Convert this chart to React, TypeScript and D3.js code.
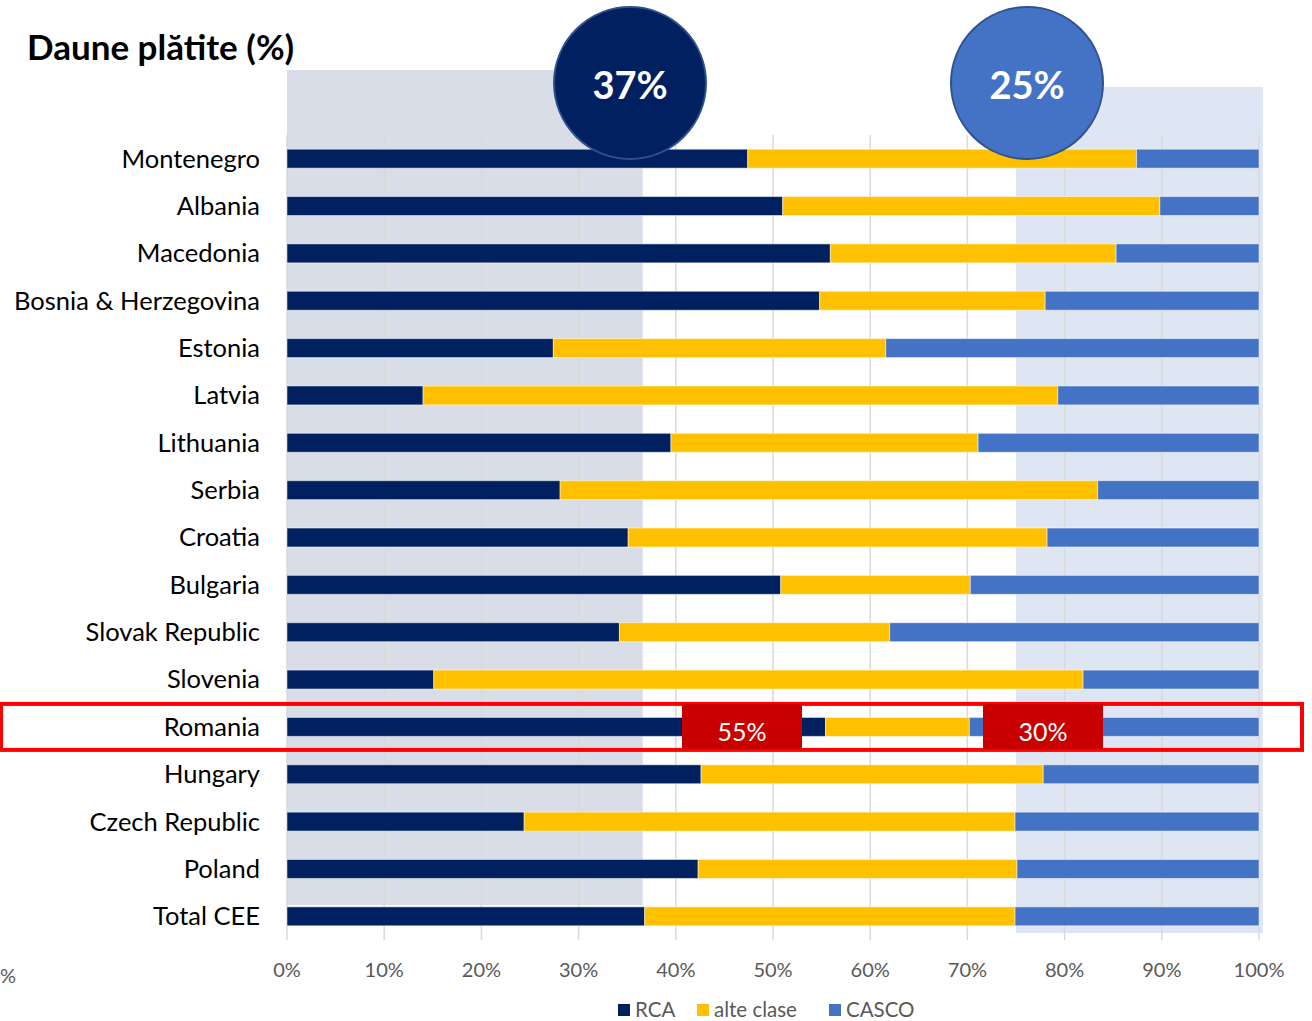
import * as d3 from "d3"

const countries = [
	"Montenegro",
	"Albania",
	"Macedonia",
	"Bosnia & Herzegovina",
	"Estonia",
	"Latvia",
	"Lithuania",
	"Serbia",
	"Croatia",
	"Bulgaria",
	"Slovak Republic",
	"Slovenia",
	"Romania",
	"Hungary",
	"Czech Republic",
	"Poland",
	"Total CEE",
]
const rca = [47.4, 51.0, 55.9, 54.8, 27.4, 14.0, 39.5, 28.1, 35.1, 50.8, 34.2, 15.1, 55.4, 42.6, 24.4, 42.3, 36.8]
const alteClase = [40.0, 38.8, 29.4, 23.2, 34.2, 65.3, 31.6, 55.3, 43.1, 19.5, 27.8, 66.8, 14.8, 35.2, 50.5, 32.8, 38.1]
const casco = [12.6, 10.2, 14.7, 22.0, 38.4, 20.7, 28.9, 16.6, 21.8, 29.7, 38.0, 18.1, 29.8, 22.2, 25.1, 24.9, 25.1]
const seriesNames = ["RCA", "alte clase", "CASCO"]
const seriesColors = ["#002060", "#FFC000", "#4472C4"]
const ticks = [0, 10, 20, 30, 40, 50, 60, 70, 80, 90, 100]
// CEE averages highlighted in the bubbles, Romania values in the red boxes
const bubbleValues = [37, 25]
const romaniaValues = [55, 30]

const FONT = "Lato, 'Open Sans', sans-serif"

export default function App() {
	const width = 1312
	const height = 1021
	const x = d3.scaleLinear().domain([0, 100]).range([287, 1259])
	const y = d3
		.scaleBand()
		.domain(countries)
		.range([135, 940])
		.paddingInner(0.6)
		.paddingOuter(0.3)

	const rows = countries.map((c, i) => ({ country: c, RCA: rca[i], "alte clase": alteClase[i], CASCO: casco[i] }))
	const stacked = d3.stack().keys(seriesNames)(rows as any)

	const roY = y("Romania")! + y.bandwidth() / 2

	return (
		<svg width={width} height={height} style={{ position: "absolute", left: 0, top: 0 }} fontFamily={FONT}>
			{/* shaded zones */}
			<rect x={x(0)} y={70} width={x(36.6) - x(0)} height={905 - 70} fill="#D8DDE7" />
			<rect x={x(75)} y={87} width={x(100.4) - x(75)} height={933 - 87} fill="#DFE6F3" />

			{/* gridlines */}
			{ticks.map((t) => (
				<line key={t} x1={x(t)} x2={x(t)} y1={135} y2={940} stroke="#D9D9D9" strokeWidth={1.5} />
			))}

			{/* bars */}
			{stacked.map((s, si) => (
				<g key={s.key} fill={seriesColors[si]}>
					{s.map((d, i) => (
						<rect
							key={countries[i]}
							x={x(d[0])}
							y={y(countries[i])}
							width={x(d[1]) - x(d[0])}
							height={y.bandwidth()}
							stroke="#ffffff"
							strokeOpacity={0.5}
							strokeWidth={1}
						/>
					))}
				</g>
			))}

			{/* category labels */}
			{countries.map((c) => (
				<text key={c} x={260} y={y(c)! + y.bandwidth() / 2} dy="0.35em" textAnchor="end" fontSize={25.5} fill="#000">
					{c}
				</text>
			))}

			{/* x tick labels */}
			{ticks.map((t) => (
				<text key={t} x={x(t)} y={970} dy="0.35em" textAnchor="middle" fontSize={20} fill="#595959">
					{t}%
				</text>
			))}
			<text x={0} y={976} dy="0.35em" fontSize={20} fill="#595959">%</text>

			{/* legend */}
			{seriesNames.map((n, i) => {
				const lx = [618, 697, 829][i]
				return (
					<g key={n}>
						<rect x={lx} y={1004} width={12} height={12} fill={seriesColors[i]} />
						<text x={lx + 17} y={1010} dy="0.35em" fontSize={20.5} fill="#595959">{n}</text>
					</g>
				)
			})}

			{/* title */}
			<text x={27} y={60} fontSize={35} fontWeight="bold" fill="#000">Daune plătite (%)</text>

			{/* bubbles */}
			{bubbleValues.map((v, i) => {
				const cx = [630, 1027][i]
				return (
					<g key={i}>
						<ellipse cx={cx} cy={83} rx={76} ry={76} fill={[seriesColors[0], seriesColors[2]][i]} stroke="#2F528F" strokeWidth={2} />
						<text x={cx} y={86} dy="0.35em" textAnchor="middle" fontSize={38} fontWeight="bold" fill="#fff">
							{v}%
						</text>
					</g>
				)
			})}

			{/* Romania highlight */}
			<rect x={1} y={roY - 23} width={1301} height={46} fill="none" stroke="#FF0000" strokeWidth={4} />
			{romaniaValues.map((v, i) => {
				const bx = [682, 983][i]
				return (
					<g key={i}>
						<rect x={bx} y={roY - 23} width={120} height={45} fill="#C80000" />
						<text x={bx + 60} y={roY + 5} dy="0.35em" textAnchor="middle" fontSize={25} fill="#fff">
							{v}%
						</text>
					</g>
				)
			})}
		</svg>
	)
}
